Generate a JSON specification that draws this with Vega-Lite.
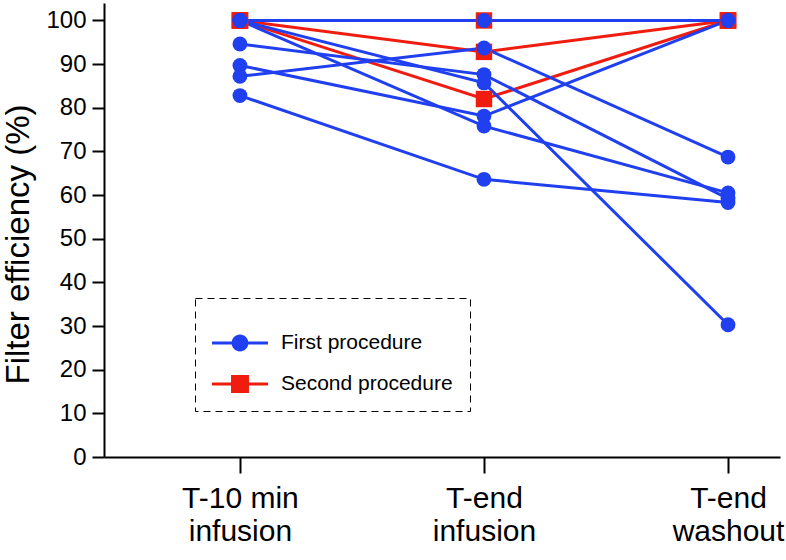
{
  "$schema": "https://vega.github.io/schema/vega-lite/v6.json",
  "autosize": {"type": "none"},
  "padding": {"left": 104, "top": 3, "right": 6, "bottom": 103},
  "width": 676,
  "height": 454,
  "config": {
    "font": "Liberation Sans",
    "view": {"stroke": null},
    "axis": {"grid": false, "domainColor": "black", "tickColor": "black", "domainWidth": 2, "tickWidth": 2, "labelColor": "black", "titleColor": "black", "titleFontWeight": "normal"},
    "legend": {"strokeDash": [7, 5], "strokeColor": "black"}
  },
  "data": {
    "values": [
      {"subject": "b1", "procedure": "First procedure", "t": 1, "value": 100},
      {"subject": "b1", "procedure": "First procedure", "t": 2, "value": 100},
      {"subject": "b1", "procedure": "First procedure", "t": 3, "value": 100},
      {"subject": "b2", "procedure": "First procedure", "t": 1, "value": 100},
      {"subject": "b2", "procedure": "First procedure", "t": 2, "value": 85.7},
      {"subject": "b2", "procedure": "First procedure", "t": 3, "value": 30.3},
      {"subject": "b3", "procedure": "First procedure", "t": 1, "value": 100},
      {"subject": "b3", "procedure": "First procedure", "t": 2, "value": 75.8},
      {"subject": "b3", "procedure": "First procedure", "t": 3, "value": 60.5},
      {"subject": "b4", "procedure": "First procedure", "t": 1, "value": 94.6},
      {"subject": "b4", "procedure": "First procedure", "t": 2, "value": 87.6},
      {"subject": "b4", "procedure": "First procedure", "t": 3, "value": 59.2},
      {"subject": "b5", "procedure": "First procedure", "t": 1, "value": 89.7},
      {"subject": "b5", "procedure": "First procedure", "t": 2, "value": 78.1},
      {"subject": "b5", "procedure": "First procedure", "t": 3, "value": 100},
      {"subject": "b6", "procedure": "First procedure", "t": 1, "value": 87.2},
      {"subject": "b6", "procedure": "First procedure", "t": 2, "value": 93.7},
      {"subject": "b6", "procedure": "First procedure", "t": 3, "value": 68.7},
      {"subject": "b7", "procedure": "First procedure", "t": 1, "value": 82.8},
      {"subject": "b7", "procedure": "First procedure", "t": 2, "value": 63.6},
      {"subject": "b7", "procedure": "First procedure", "t": 3, "value": 58.3},
      {"subject": "r1", "procedure": "Second procedure", "t": 1, "value": 100},
      {"subject": "r1", "procedure": "Second procedure", "t": 2, "value": 100},
      {"subject": "r1", "procedure": "Second procedure", "t": 3, "value": 100},
      {"subject": "r2", "procedure": "Second procedure", "t": 1, "value": 100},
      {"subject": "r2", "procedure": "Second procedure", "t": 2, "value": 92.8},
      {"subject": "r2", "procedure": "Second procedure", "t": 3, "value": 100},
      {"subject": "r3", "procedure": "Second procedure", "t": 1, "value": 100},
      {"subject": "r3", "procedure": "Second procedure", "t": 2, "value": 82.0},
      {"subject": "r3", "procedure": "Second procedure", "t": 3, "value": 100}
    ]
  },
  "encoding": {
    "x": {
      "field": "t", "type": "quantitative",
      "scale": {"domain": [0.443, 3.213], "nice": false, "zero": false},
      "axis": {
        "values": [1, 2, 3], "title": null, "tickSize": 16, "labelFontSize": 30, "labelPadding": 10,
        "labelExpr": "datum.value == 1 ? ['T-10 min', 'infusion'] : datum.value == 2 ? ['T-end', 'infusion'] : ['T-end', 'washout']",
        "labelLineHeight": 33
      }
    },
    "y": {
      "field": "value", "type": "quantitative",
      "scale": {"domain": [0, 104], "nice": false},
      "axis": {"values": [0,10,20,30,40,50,60,70,80,90,100], "title": "Filter efficiency (%)", "titleFontSize": 33, "labelFontSize": 24, "tickSize": 12, "labelPadding": 6, "titlePadding": 10, "titleY": 241}
    }
  },
  "layer": [
    {
      "mark": {"type": "point", "filled": true, "opacity": 0},
      "encoding": {
        "color": {"field": "procedure", "type": "nominal", "scale": {"domain": ["First procedure", "Second procedure"], "range": ["#2040f0", "#f01c10"]},
          "legend": {
            "title": null, "orient": "none", "legendX": 91, "legendY": 295,
            "symbolSize": 3136, "symbolOpacity": 1, "labelFontSize": 21, "labelLimit": 300, "labelOffset": 13, "padding": 17, "rowPadding": 3,
            "symbolStrokeWidth": 0
          }
        },
        "shape": {"field": "procedure", "type": "nominal",
          "scale": {"domain": ["First procedure", "Second procedure"], "range": ["M-1,-0.054H1V0.054H-1Z M0.3,0A0.3,0.3,0,1,1,-0.3,0A0.3,0.3,0,1,1,0.3,0Z", "M-1,-0.054H1V0.054H-1Z M-0.32,-0.32H0.32V0.32H-0.32Z"]},
          "legend": {
            "title": null, "orient": "none", "legendX": 91, "legendY": 295,
            "symbolSize": 3136, "symbolOpacity": 1, "labelFontSize": 21, "labelLimit": 300, "labelOffset": 13, "padding": 17, "rowPadding": 3,
            "symbolStrokeWidth": 0
          }
        }
      }
    },
    {
      "transform": [{"filter": "datum.procedure == 'Second procedure'"}],
      "mark": {"type": "line", "strokeWidth": 3, "color": "#f01c10"},
      "encoding": {"detail": {"field": "subject"}}
    },
    {
      "transform": [{"filter": "datum.procedure == 'First procedure'"}],
      "mark": {"type": "line", "strokeWidth": 3, "color": "#2040f0"},
      "encoding": {"detail": {"field": "subject"}}
    },
    {
      "transform": [{"filter": "datum.procedure == 'Second procedure'"}],
      "mark": {"type": "square", "filled": true, "opacity": 1, "size": 270, "color": "#f01c10"}
    },
    {
      "transform": [{"filter": "datum.procedure == 'First procedure'"}],
      "mark": {"type": "circle", "filled": true, "opacity": 1, "size": 220, "color": "#2040f0"}
    }
  ]
}
